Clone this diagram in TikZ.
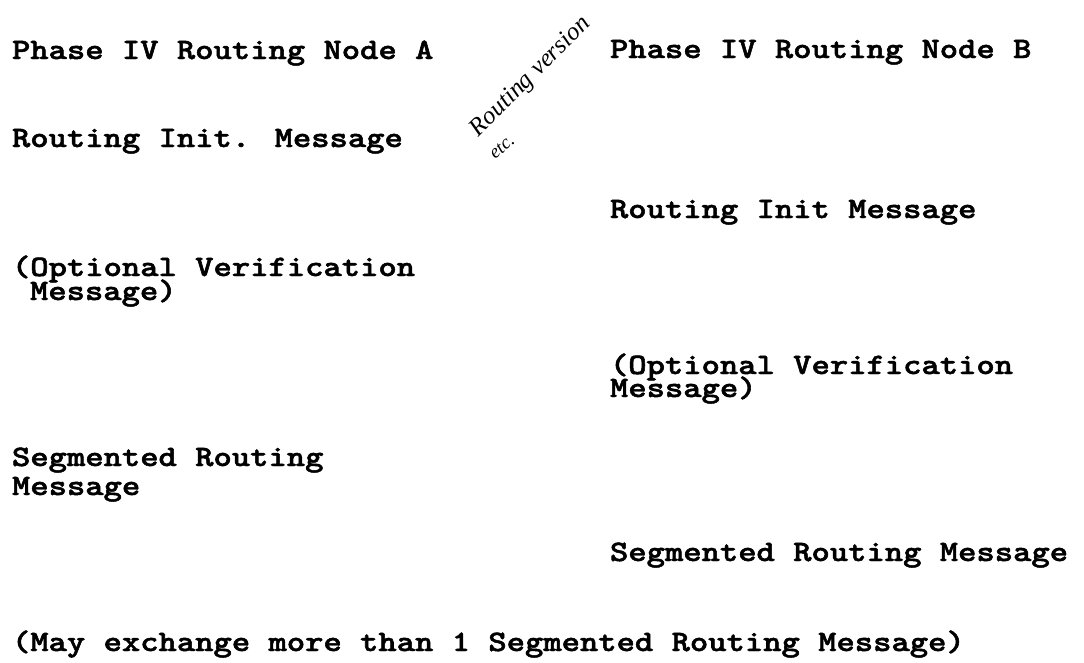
\documentclass[tikz,border=0pt]{standalone}
\usepackage{graphicx}
\usepackage{fontspec}
\newfontfamily\tw{lmmonolt10-bold.otf}[FakeBold=1.6]
\newfontfamily\hand{Liberation Serif}
\newcommand{\tline}[1]{\scalebox{1}[0.85]{#1}}
\begin{document}
\begin{tikzpicture}[x=1pt,y=-1pt,
  txt/.style={anchor=base west,inner sep=0pt,outer sep=0pt,font=\tw\fontsize{34.9}{34.9}\selectfont},
  note/.style={inner sep=0pt,outer sep=0pt,font=\hand\itshape\fontsize{25}{25}\selectfont}]
\useasboundingbox[fill=white] (0,0) rectangle (1084,662);
% left column
\node[txt] (a1) at (12,59)  {\tline{Phase IV Routing Node A}};
\node[txt] (a2) at (12,147) {\tline{Routing Init. Message}};
\node[txt] (a3) at (12,276) {\tline{(Optional Verification}};
\node[txt] (a4) at (30,300) {\tline{Message)}};
\node[txt] (a5) at (12,466) {\tline{Segmented Routing}};
\node[txt] (a6) at (12,495) {\tline{Message}};
\node[txt] (a7) at (12,651) {\tline{(May exchange more than 1 Segmented Routing Message)}};
% right column
\node[txt] (b1) at (610,58)  {\tline{Phase IV Routing Node B}};
\node[txt] (b2) at (610,218) {\tline{Routing Init Message}};
\node[txt] (b3) at (610,374) {\tline{(Optional Verification}};
\node[txt] (b4) at (610,397) {\tline{Message)}};
\node[txt] (b5) at (610,561) {\tline{Segmented Routing Message}};
% handwritten note
\node[note,rotate=45] (h1) at (531,77) {Routing version};
\node[note,rotate=40,font=\hand\itshape\fontsize{19}{19}\selectfont] (h2) at (502,147) {etc.};
\end{tikzpicture}
\end{document}
